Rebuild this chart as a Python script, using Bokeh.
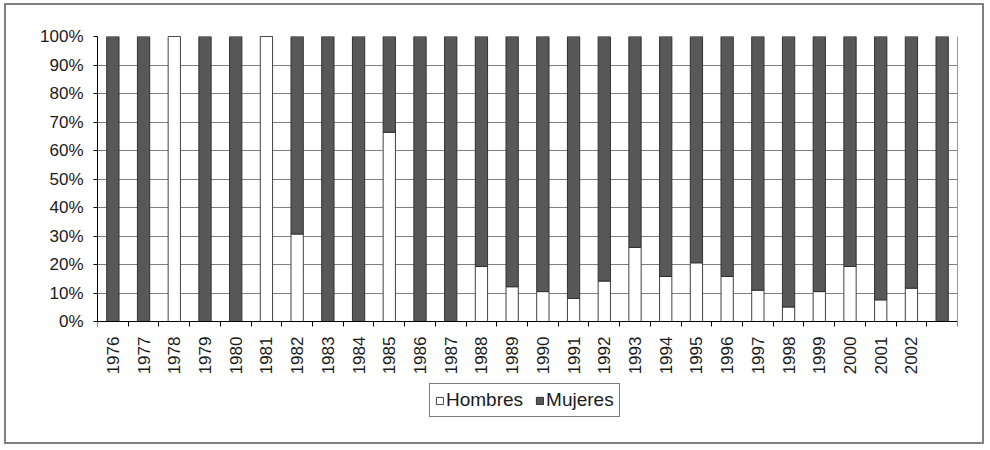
import math
from bokeh.plotting import figure
from bokeh.models import (ColumnDataSource, Range1d, FixedTicker, PrintfTickFormatter,
                          LinearAxis)
from bokeh.embed import file_html
from bokeh.resources import INLINE

# ---- data ----
years = ["1976", "1977", "1978", "1979", "1980", "1981", "1982", "1983", "1984", "1985",
         "1986", "1987", "1988", "1989", "1990", "1991", "1992", "1993", "1994", "1995",
         "1996", "1997", "1998", "1999", "2000", "2001", "2002", ""]
hombres = [0, 0, 100, 0, 0, 100, 30.7, 0, 0, 66.4,
           0, 0, 19.3, 12.2, 10.5, 8.1, 14.2, 26.0, 15.8, 20.6,
           15.8, 11.0, 5.1, 10.5, 19.3, 7.6, 11.7, 0]
mujeres = [100, 100, 0, 100, 100, 0, 69.3, 100, 100, 33.6,
           100, 100, 80.7, 87.8, 89.5, 91.9, 85.8, 74.0, 84.2, 79.4,
           84.2, 89.0, 94.9, 89.5, 80.7, 92.4, 88.3, 100]
y_ticks = [0, 10, 20, 30, 40, 50, 60, 70, 80, 90, 100]
series_names = ["Hombres", "Mujeres"]

idx = list(range(len(years)))
source = ColumnDataSource(data=dict(x=idx, hombres=hombres, mujeres=mujeres))

FONT = "Liberation Sans"
Y_BOTTOM = -41.75   # room below the 0% line for tick labels and legend

p = figure(width=980, height=441, output_backend="svg", toolbar_location=None,
           x_range=Range1d(-0.5, len(years) - 0.5), y_range=Range1d(Y_BOTTOM, 100),
           min_border_left=91, min_border_right=29, min_border_top=31, min_border_bottom=6)
p.styles = {"border": "2px solid #808080", "margin-left": "4px", "margin-top": "3px"}
p.background_fill_color = "white"
p.border_fill_color = "white"
p.outline_line_color = None

renderers = p.vbar_stack(["hombres", "mujeres"], x="x", width=0.4, source=source,
                         fill_color=["white", "#585858"], line_color=["#404040", "#303030"],
                         line_width=1, legend_label=series_names)

# y axis
p.yaxis.bounds = (0, 100)
p.yaxis.ticker = FixedTicker(ticks=y_ticks)
p.yaxis.formatter = PrintfTickFormatter(format="%d%%")
p.yaxis.axis_line_color = "black"
p.yaxis.axis_line_width = 1
p.yaxis.major_tick_out = 4
p.yaxis.major_tick_in = 0
p.yaxis.minor_tick_line_color = None
p.yaxis.major_tick_line_color = "black"
p.yaxis.major_label_text_font = FONT
p.yaxis.major_label_text_font_size = "17px"
p.yaxis.major_label_text_color = "#1a1a1a"
p.yaxis.major_label_standoff = 10

# right border of plot area
right = LinearAxis(bounds=(0, 100), ticker=FixedTicker(ticks=[]),
                   axis_line_color="#9a9a9a", major_tick_line_color=None,
                   minor_tick_line_color=None)
p.add_layout(right, "right")

# x axis, pinned at 0
bounds = [i - 0.5 for i in range(len(years) + 1)]
p.xaxis.fixed_location = 0
p.xaxis.ticker = FixedTicker(ticks=idx, minor_ticks=bounds)
p.xaxis.major_label_overrides = {i: y for i, y in zip(idx, years)}
p.xaxis.major_label_orientation = math.pi / 2
p.xaxis.major_tick_out = 0
p.xaxis.major_tick_in = 0
p.xaxis.minor_tick_out = 5
p.xaxis.minor_tick_in = 0
p.xaxis.minor_tick_line_color = "black"
p.xaxis.axis_line_color = "black"
p.xaxis.major_label_text_font = FONT
p.xaxis.major_label_text_font_size = "17px"
p.xaxis.major_label_text_color = "#1a1a1a"
p.xaxis.major_label_standoff = 10

# grid
p.xgrid.grid_line_color = None
p.ygrid.ticker = FixedTicker(ticks=y_ticks)
p.ygrid.grid_line_color = "#808080"
p.ygrid.grid_line_width = 1

# legend
lg = p.legend[0]
lg.orientation = "horizontal"
lg.location = (332, 23)
lg.label_text_font = FONT
lg.label_text_font_size = "19px"
lg.label_text_color = "#1a1a1a"
lg.glyph_width = 9
lg.glyph_height = 9
lg.label_standoff = 2
lg.spacing = 12
lg.padding = 5
lg.margin = 0
lg.border_line_color = "black"
lg.border_line_width = 1
lg.background_fill_color = "white"
lg.background_fill_alpha = 1

open("out.html", "w").write(file_html(p, INLINE))
